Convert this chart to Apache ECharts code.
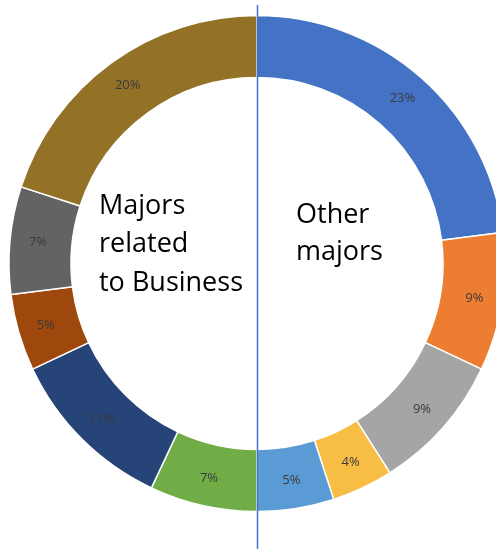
<!DOCTYPE html>
<html>
<head>
<meta charset="utf-8">
<script src="https://cdn.jsdelivr.net/npm/echarts@6/dist/echarts.min.js"></script>
<style>
html,body{margin:0;padding:0;background:#fff;}
#c{width:496px;height:549px;}
</style>
</head>
<body>
<div id="c"></div>
<script>
const categories = ['Other 1','Other 2','Other 3','Other 4','Other 5','Business 1','Business 2','Business 3','Business 4','Business 5'];
const values = [23, 9, 9, 4, 5, 7, 11, 5, 7, 20];
const colors = ['#4472C4','#ED7D31','#A5A5A5','#F7BD45','#5B9BD5','#70AD47','#264478','#9E480E','#636363','#937227'];
const leftText = ['Majors', 'related', 'to Business'];
const rightText = ['Other', 'majors'];

const chart = echarts.init(document.getElementById('c'));
chart.setOption({
  animation: false,
  series: [{
    type: 'pie',
    center: [257, 263.5],
    radius: [186, 248],
    startAngle: 90,
    clockwise: true,
    data: categories.map((n, i) => ({ name: n, value: values[i], itemStyle: { color: colors[i] } })),
    itemStyle: { borderColor: '#ffffff', borderWidth: 1.5 },
    label: {
      show: true,
      position: 'inside',
      formatter: p => p.value + '%',
      color: '#3a3a3a',
      fontSize: 13,
      fontFamily: 'Open Sans'
    },
    labelLine: { show: false },
    emphasis: { disabled: true }
  }],
  graphic: [
    { type: 'line', shape: { x1: 257.5, y1: 5, x2: 257.5, y2: 549 }, style: { stroke: '#4472C4', lineWidth: 1.5 }, z: 100 },
    { type: 'text', left: 99, top: 187, style: { text: leftText.join('\n'), font: '27px "Open Sans"', lineHeight: 38.5, fill: '#000' } },
    { type: 'text', left: 296, top: 197, style: { text: rightText.join('\n'), font: '27px "Open Sans"', lineHeight: 37, fill: '#000' } }
  ]
});
</script>
</body>
</html>
